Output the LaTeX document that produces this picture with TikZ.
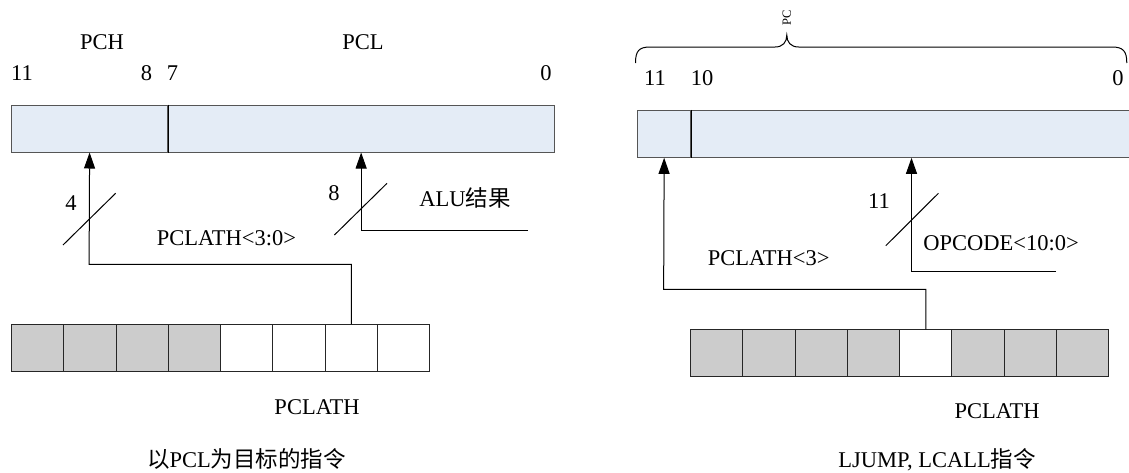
\documentclass[tikz,border=0pt]{standalone}
\usepackage{fontspec}
\setmainfont{Liberation Serif}
\newfontfamily\cjk{Noto Sans CJK SC}
\usetikzlibrary{arrows.meta}
\definecolor{regblue}{HTML}{E4ECF6}
\definecolor{cellgray}{HTML}{CCCCCC}
\definecolor{edgegray}{HTML}{555555}
\begin{document}
\begin{tikzpicture}[x=1pt,y=-1pt,
  lbl/.style={font=\fontsize{22.5}{26}\selectfont, inner sep=0pt},
  smalllbl/.style={font=\fontsize{12.5}{14}\selectfont, inner sep=0pt},
  reg/.style={draw=edgegray, fill=regblue, line width=1pt, minimum height=47pt, inner sep=0pt, anchor=north west},
  cellg/.style={draw=black!85, fill=cellgray, line width=1pt, minimum width=52.3pt, minimum height=46.5pt, inner sep=0pt, anchor=north west},
  cellw/.style={cellg, fill=white},
  arr/.style={-{Triangle[length=16pt,width=11pt]}, line width=1pt},
  wire/.style={line width=1pt},
]
\useasboundingbox (0,0) rectangle (1129,472);

% ---------- left diagram ----------
\node[reg, minimum width=156.4pt] (pch) at (10.9,104.5) {};
\node[reg, minimum width=386.7pt] (pcl) at (167.3,104.5) {};
\draw[line width=0.8pt, black] (pch.north east) -- (pch.south east);

\foreach \i/\s in {1/cellg,2/cellg,3/cellg,4/cellg,5/cellw,6/cellw,7/cellw,8/cellw}
  \node[\s] (la\i) at ({10.9+52.3*(\i-1)},324) {};

\node[lbl] (tPCH) at (102,42.5) {PCH};
\node[lbl] (tPCL) at (363,42.5) {PCL};
\node[lbl] (b11L) at (22,73.5) {11};
\node[lbl] (b8L) at (146.5,73.5) {8};
\node[lbl] (b7L) at (172.6,73.5) {7};
\node[lbl] (b0L) at (546,73.5) {0};

\coordinate (kL) at (89.1,264.3);
\draw[arr] (la7.north) |- (kL) -- (pch.south);
\coordinate (aluEnd) at (528,230.3);
\draw[arr] (aluEnd) -| (pcl.south);

\draw[wire] (63,245) -- (115.6,193.3);
\draw[wire] (334.4,235) -- (387,183.3);

\node[lbl] (w4) at (71,203) {4};
\node[lbl] (w8) at (334,193) {8};
\node[lbl] (alu) at (465,198) {ALU{\cjk 结果}};
\node[lbl] (pclath30) at (226.5,238) {PCLATH<3:0>};
\node[lbl] (pclathL) at (317,406.7) {PCLATH};
\node[lbl] (capL) at (246.5,459.3) {{\cjk 以}PCL{\cjk 为目标的指令}};

% ---------- right diagram ----------
\node[reg, minimum width=52.7pt] (pc1) at (637.3,109.8) {};
\node[reg, minimum width=442pt] (pc2) at (690,109.8) {};
\draw[line width=0.8pt, black] (pc1.north east) -- (pc1.south east);

\foreach \i/\s in {1/cellg,2/cellg,3/cellg,4/cellg,5/cellw,6/cellg,7/cellg,8/cellg}
  \node[\s] (rb\i) at ({689.9+52.3*(\i-1)},329.3) {};

\draw[wire] (635.5,63) .. controls (635.5,51) and (639,47) .. (650,47) -- (775,47)
  .. controls (783,47) and (786.8,42) .. (786.8,35)
  .. controls (786.8,42) and (790.6,47) .. (798.6,47) -- (1112,47)
  .. controls (1123,47) and (1126.8,51) .. (1126.8,63);
\node[smalllbl, rotate=90] (tPC) at (786.8,17.5) {PC};

\node[lbl] (b11R) at (655,78) {11};
\node[lbl] (b10R) at (702,78) {10};
\node[lbl] (b0R) at (1118,78) {0};

\coordinate (kR) at (663.65,289.3);
\draw[arr] (rb5.north) |- (kR) -- (pc1.south);
\coordinate (opEnd) at (1056,271);
\draw[arr] (opEnd) -| (pc2.south);

\draw[wire] (885.8,245.7) -- (938.4,193.3);

\node[lbl] (w11) at (879,201) {11};
\node[lbl] (pclath3) at (768.6,257.7) {PCLATH<3>};
\node[lbl] (opcode) at (1001,242.7) {OPCODE<10:0>};
\node[lbl] (pclathR) at (997,411) {PCLATH};
\node[lbl] (capR) at (937,459.3) {LJUMP, LCALL{\cjk 指令}};
\end{tikzpicture}
\end{document}
